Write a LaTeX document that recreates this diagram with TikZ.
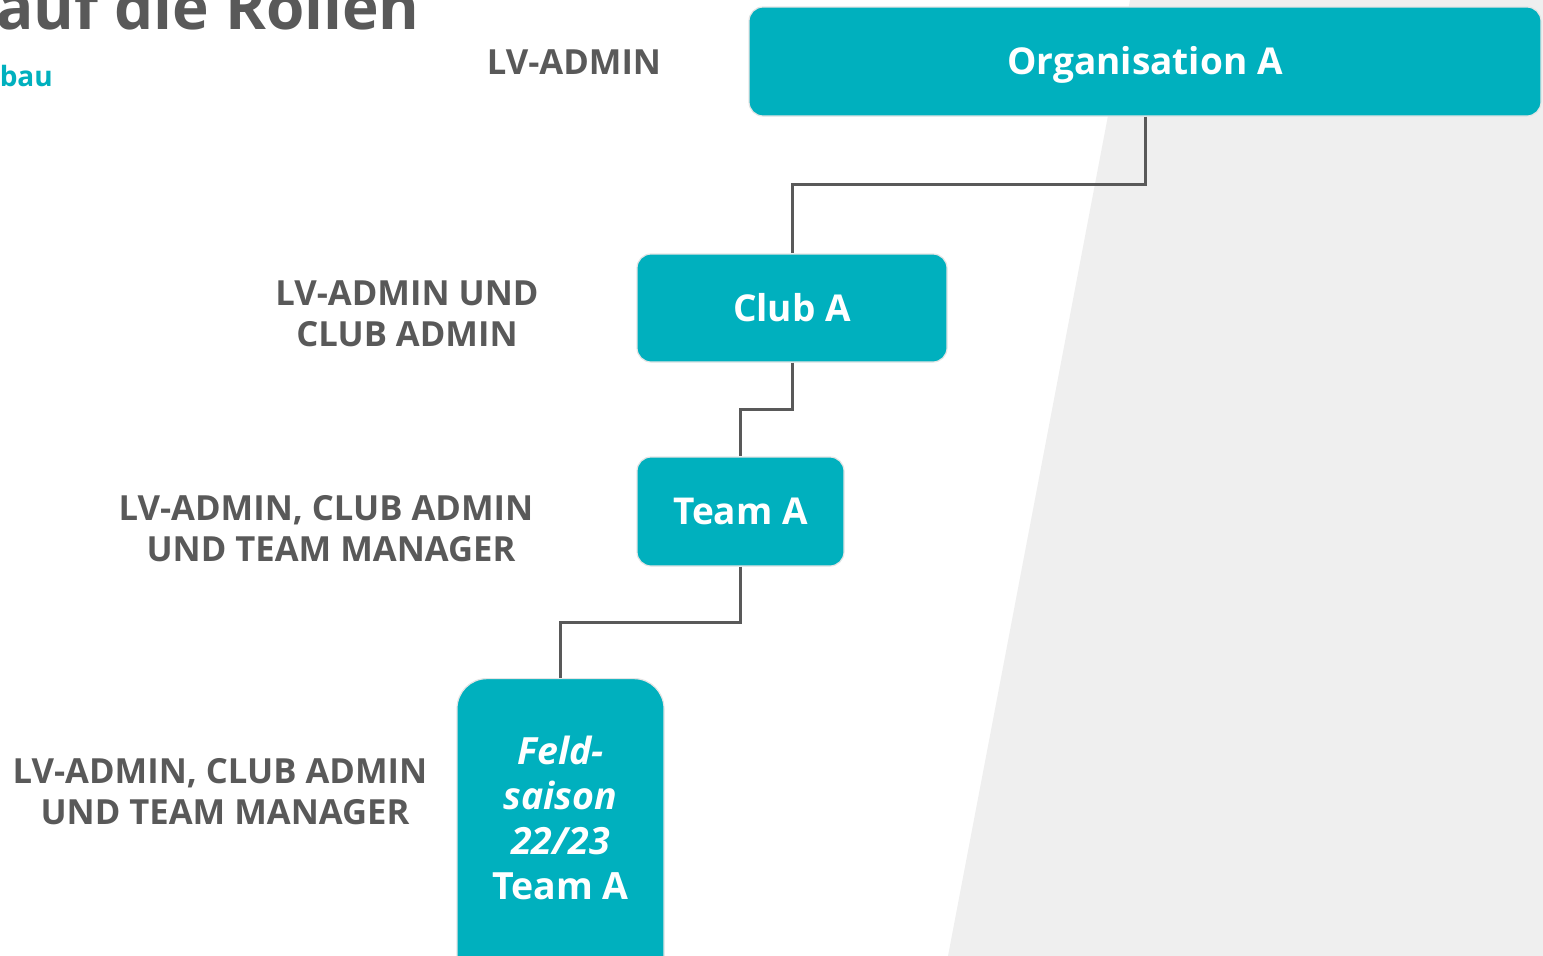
\documentclass[tikz,border=0pt]{standalone}
\usepackage{fontspec}
\setmainfont{Open Sans}
\definecolor{tealbox}{HTML}{00B0BE}
\definecolor{txtgray}{HTML}{595959}
\definecolor{bggray}{HTML}{EFEFEF}
\begin{document}
\begin{tikzpicture}[x=1pt,y=-1pt,
  box/.style={fill=tealbox, draw=white!90!black, line width=1.2pt, rounded corners=14pt,
    text=white, font=\fontsize{37}{44}\selectfont\bfseries, inner sep=0pt,
    text height=26.5pt, text depth=0pt},
  lbl/.style={text=txtgray, font=\fontsize{34.6}{41}\selectfont\bfseries, align=center},
  conn/.style={draw=txtgray, line width=3pt}]
\useasboundingbox (0,0) rectangle (1543,956);
\fill[bggray] (1130,0) -- (1543,0) -- (1543,956) -- (948,956) -- cycle;

% title fragments
\node[anchor=base east, text=txtgray, inner sep=0pt,
  font=\fontsize{62}{66}\selectfont\bfseries] (title) at (420,29) {auf die Rollen};
\node[anchor=base east, text=tealbox, inner sep=0pt,
  font=\fontsize{28}{32}\selectfont\bfseries] (sub) at (53,86) {bau};

% boxes
\node[box, minimum width=792, minimum height=109] (org) at (1145,61.5) {Organisation A};
\node[box, minimum width=310, minimum height=108] (club) at (792,308) {Club A};
\node[box, minimum width=207, minimum height=109] (team) at (740.5,511.5) {Team A};
\node[box, rounded corners=30pt, minimum width=207, minimum height=330, anchor=north] (feld) at (560.5,678) {};
\node[text=white, align=center, inner sep=0pt, font=\fontsize{37.5}{45}\selectfont\bfseries] (feldtxt) at (560.5,818)
  {\itshape Feld-\\\itshape saison\\\itshape 22/23\\Team A};

% labels
\node[lbl] (l1) at (574,62) {LV-ADMIN};
\node[lbl] (l2) at (407,314) {LV-ADMIN UND\\CLUB ADMIN};
\node[lbl] (l3) at (326,529) {LV-ADMIN, CLUB ADMIN\\\hspace*{10pt}UND TEAM MANAGER};
\node[lbl] (l4) at (220,792) {LV-ADMIN, CLUB ADMIN\\\hspace*{10pt}UND TEAM MANAGER};

% connectors
\draw[conn] (org.south) -- ++(0,68) -| (club.north);
\draw[conn] (club.south) -- ++(0,47) -| (team.north);
\draw[conn] (team.south) -- ++(0,56) -| (feld.north);
\end{tikzpicture}
\end{document}
